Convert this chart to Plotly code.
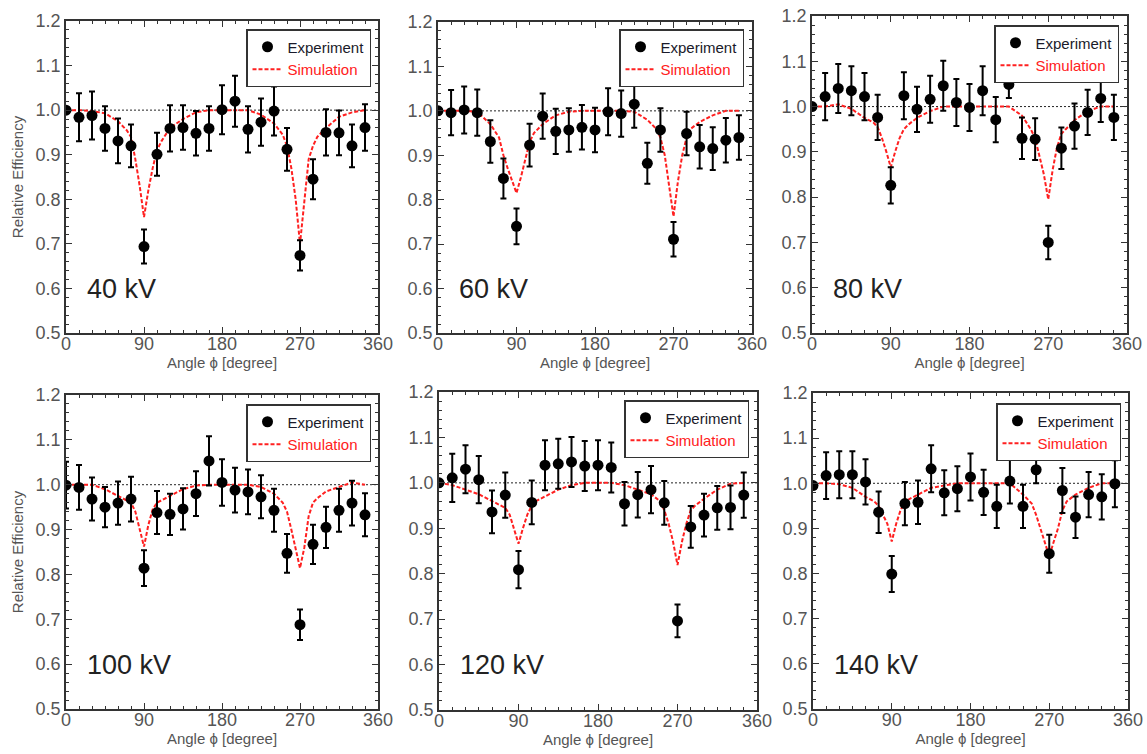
import plotly.graph_objects as go

# ---------------- data ----------------
angles_exp = [0, 15, 30, 45, 60, 75, 90, 105, 120, 135, 150, 165, 180, 195, 210, 225, 240, 255, 270, 285, 300, 315, 330, 345]
angles_sim = [0, 15, 30, 45, 60, 70, 75, 80, 85, 90, 95, 100, 105, 110, 120, 135, 150, 165, 180, 195, 210, 225, 240,
              250, 255, 260, 265, 270, 275, 280, 285, 290, 300, 315, 330, 345]
reference_level = 1.0
panel_labels = ["40 kV", "60 kV", "80 kV", "100 kV", "120 kV", "140 kV"]

exp_40 = [1.000, 0.984, 0.988, 0.959, 0.931, 0.920, 0.694, 0.901, 0.959, 0.961, 0.948, 0.959,
          1.001, 1.020, 0.957, 0.973, 0.998, 0.912, 0.674, 0.845, 0.950, 0.949, 0.920, 0.961]
err_40 = [0.0, 0.054, 0.054, 0.050, 0.050, 0.048, 0.038, 0.048, 0.052, 0.050, 0.050, 0.050,
          0.055, 0.057, 0.052, 0.053, 0.055, 0.048, 0.034, 0.045, 0.052, 0.050, 0.048, 0.052]
sim_40 = [1.000, 1.000, 0.998, 0.993, 0.975, 0.955, 0.940, 0.890, 0.830, 0.760, 0.820, 0.870, 0.910, 0.930,
          0.960, 0.980, 0.995, 1.000, 1.000, 1.000, 1.000, 0.990, 0.970, 0.945, 0.920, 0.870, 0.800, 0.700,
          0.800, 0.890, 0.920, 0.940, 0.960, 0.985, 0.995, 1.000]

exp_60 = [1.000, 0.996, 1.002, 0.996, 0.931, 0.848, 0.740, 0.923, 0.988, 0.954, 0.957, 0.963,
          0.957, 0.998, 0.994, 1.015, 0.882, 0.957, 0.711, 0.949, 0.919, 0.915, 0.934, 0.940]
err_60 = [0.0, 0.051, 0.053, 0.052, 0.048, 0.045, 0.040, 0.048, 0.051, 0.051, 0.049, 0.050,
          0.050, 0.053, 0.052, 0.053, 0.046, 0.049, 0.039, 0.049, 0.049, 0.048, 0.050, 0.050]
sim_60 = [1.000, 1.000, 1.000, 0.998, 0.970, 0.940, 0.900, 0.870, 0.840, 0.815, 0.850, 0.890, 0.930, 0.950,
          0.970, 0.990, 0.998, 1.000, 1.000, 1.000, 1.000, 0.998, 0.980, 0.960, 0.940, 0.900, 0.830, 0.762,
          0.840, 0.900, 0.940, 0.960, 0.975, 0.990, 1.000, 1.000]

exp_80 = [1.000, 1.022, 1.040, 1.035, 1.022, 0.976, 0.826, 1.024, 0.994, 1.016, 1.046, 1.009,
          0.998, 1.035, 0.971, 1.049, 0.930, 0.928, 0.700, 0.908, 0.957, 0.987, 1.018, 0.976]
err_80 = [0.0, 0.052, 0.054, 0.054, 0.052, 0.050, 0.040, 0.052, 0.050, 0.052, 0.055, 0.052,
          0.052, 0.054, 0.050, 0.030, 0.046, 0.046, 0.037, 0.046, 0.050, 0.050, 0.052, 0.050]
sim_80 = [1.000, 1.000, 1.005, 0.995, 0.975, 0.965, 0.955, 0.930, 0.900, 0.866, 0.900, 0.930, 0.950, 0.960,
          0.975, 0.990, 1.000, 1.000, 1.000, 1.000, 1.000, 1.000, 0.980, 0.950, 0.930, 0.890, 0.850, 0.795,
          0.860, 0.910, 0.940, 0.950, 0.970, 0.990, 1.000, 1.000]

exp_100 = [0.999, 0.994, 0.968, 0.950, 0.959, 0.968, 0.814, 0.938, 0.934, 0.946, 0.980, 1.053,
           1.005, 0.988, 0.984, 0.973, 0.943, 0.847, 0.688, 0.867, 0.905, 0.943, 0.959, 0.933]
err_100 = [0.052, 0.050, 0.048, 0.045, 0.048, 0.050, 0.040, 0.048, 0.046, 0.046, 0.050, 0.055,
           0.052, 0.050, 0.050, 0.048, 0.048, 0.043, 0.034, 0.044, 0.046, 0.048, 0.050, 0.048]
sim_100 = [1.000, 1.000, 1.000, 0.990, 0.975, 0.965, 0.960, 0.940, 0.900, 0.862, 0.910, 0.945, 0.960, 0.965,
           0.975, 0.990, 0.998, 1.000, 1.000, 1.000, 1.000, 0.995, 0.980, 0.960, 0.940, 0.900, 0.860, 0.814,
           0.860, 0.930, 0.960, 0.970, 0.985, 0.995, 1.005, 1.000]

exp_120 = [1.000, 1.011, 1.030, 1.007, 0.936, 0.973, 0.809, 0.957, 1.039, 1.042, 1.046, 1.037,
           1.039, 1.034, 0.954, 0.974, 0.985, 0.956, 0.696, 0.903, 0.929, 0.945, 0.946, 0.973]
err_120 = [0.0, 0.053, 0.053, 0.052, 0.047, 0.050, 0.041, 0.048, 0.055, 0.055, 0.055, 0.055,
           0.055, 0.055, 0.048, 0.050, 0.052, 0.048, 0.036, 0.046, 0.047, 0.048, 0.048, 0.050]
sim_120 = [1.000, 0.995, 0.985, 0.975, 0.960, 0.950, 0.945, 0.930, 0.900, 0.866, 0.900, 0.930, 0.950, 0.960,
           0.970, 0.985, 0.995, 1.000, 1.000, 1.000, 0.995, 0.985, 0.975, 0.960, 0.940, 0.910, 0.870, 0.819,
           0.870, 0.910, 0.940, 0.950, 0.965, 0.985, 0.998, 1.000]

exp_140 = [0.995, 1.017, 1.019, 1.019, 1.003, 0.936, 0.799, 0.955, 0.958, 1.032, 0.979, 0.988,
           1.014, 0.980, 0.949, 1.005, 0.949, 1.030, 0.844, 0.984, 0.925, 0.975, 0.970, 0.999]
err_140 = [0.0, 0.052, 0.052, 0.052, 0.050, 0.046, 0.040, 0.048, 0.048, 0.052, 0.050, 0.050,
           0.052, 0.050, 0.048, 0.050, 0.048, 0.030, 0.042, 0.050, 0.046, 0.050, 0.050, 0.052]
sim_140 = [1.000, 1.000, 0.998, 0.990, 0.970, 0.960, 0.950, 0.930, 0.910, 0.871, 0.910, 0.940, 0.960, 0.965,
           0.975, 0.990, 0.995, 1.000, 1.000, 1.000, 1.000, 1.000, 0.975, 0.955, 0.930, 0.900, 0.870, 0.838,
           0.870, 0.900, 0.940, 0.960, 0.975, 0.990, 1.000, 1.000]

exp_sets = [exp_40, exp_60, exp_80, exp_100, exp_120, exp_140]
err_sets = [err_40, err_60, err_80, err_100, err_120, err_140]
sim_sets = [sim_40, sim_60, sim_80, sim_100, sim_120, sim_140]

x_ticks = [0, 90, 180, 270, 360]
y_ticks = [0.5, 0.6, 0.7, 0.8, 0.9, 1.0, 1.1, 1.2]

# ---------------- layout geometry (pixels) ----------------
W, H = 1147, 754
# (left, right, top, bottom) of each plot area
boxes = [(66, 378, 21, 333), (438, 752, 22, 333), (812, 1127, 16, 333),
         (66, 378, 395, 709), (439, 757, 392, 710), (813, 1128, 393, 709)]
# legend right/top corners
legend_pos = [(371, 29), (744, 29), (1119, 25), (371, 404), (749, 400), (1121, 403)]

FONT = "Liberation Sans, Arial, sans-serif"
RED = "#ff2020"
AX = "#333333"
TICKC = "#555555"

fig = go.Figure()
layout = dict(width=W, height=H, margin=dict(l=0, r=0, t=0, b=0, autoexpand=False), autosize=False,
              paper_bgcolor="white", plot_bgcolor="white", font=dict(family=FONT, color=TICKC),
              annotations=[])

for i in range(6):
    n = "" if i == 0 else str(i + 1)
    xa, ya = "x" + n, "y" + n
    legend_name = "legend" if i == 0 else "legend" + str(i + 1)
    # reference line
    fig.add_trace(go.Scatter(x=[x_ticks[0], x_ticks[-1]], y=[reference_level, reference_level], mode="lines",
                             line=dict(color="#222222", width=1, dash="2px,2px"), showlegend=False,
                             hoverinfo="skip", xaxis=xa, yaxis=ya))
    # simulation
    fig.add_trace(go.Scatter(x=angles_sim, y=sim_sets[i], mode="lines",
                             line=dict(color=RED, width=2, dash="4px,2px"),
                             name="<span style='color:#ff2020'>Simulation</span>",
                             legend=legend_name, legendrank=2, xaxis=xa, yaxis=ya))
    # experiment
    fig.add_trace(go.Scatter(x=angles_exp, y=exp_sets[i], mode="markers",
                             marker=dict(color="black", size=11),
                             error_y=dict(type="data", array=err_sets[i], color="black", thickness=2, width=3),
                             name="<span style='color:#1a1a2a'>Experiment</span>",
                             legend=legend_name, legendrank=1, xaxis=xa, yaxis=ya))

    l, r, t, b = boxes[i]
    xkey = "xaxis" + n
    ykey = "yaxis" + n
    layout[xkey] = dict(domain=[l / W, r / W], anchor=ya, range=[x_ticks[0], x_ticks[-1]], automargin=False,
                        tickvals=x_ticks, ticks="inside", ticklen=6, tickwidth=1.3, tickcolor=AX,
                        showline=True, linecolor=AX, linewidth=1.5, mirror="ticks", showgrid=False,
                        zeroline=False, tickfont=dict(size=18, color=TICKC, family=FONT), ticklabelstandoff=-6,
                        minor=dict(dtick=15, ticks="inside", ticklen=3, tickcolor=AX, tickwidth=1.2),
                        title=dict(text="Angle ϕ [degree]", font=dict(size=15, color=TICKC, family=FONT),
                                   standoff=0))
    ytitle = "Relative Efficiency" if i in (0, 3) else ""
    layout[ykey] = dict(domain=[1 - b / H, 1 - t / H], anchor=xa, range=[y_ticks[0], y_ticks[-1]], automargin=False,
                        tickvals=y_ticks, tickformat=".1f", ticks="inside", ticklen=6, tickwidth=1.3,
                        tickcolor=AX, showline=True, linecolor=AX, linewidth=1.5, mirror="ticks",
                        showgrid=False, zeroline=False, tickfont=dict(size=18, color=TICKC, family=FONT),
                        minor=dict(dtick=0.02, ticks="inside", ticklen=3, tickcolor=AX, tickwidth=1.2),
                        title=dict(text=ytitle, font=dict(size=15, color=TICKC, family=FONT), standoff=8))
    lx, ly = legend_pos[i]
    layout[legend_name] = dict(x=lx / W, y=1 - ly / H, xanchor="right", yanchor="top", xref="paper", yref="paper",
                               bgcolor="white", bordercolor=AX, borderwidth=1.5,
                               font=dict(size=15, family=FONT, color="#1a1a2a"),
                               tracegroupgap=0, itemwidth=30)
    layout["annotations"].append(dict(text=panel_labels[i], xref=xa + " domain", yref=ya + " domain",
                                      x=0.06, y=0.14, xanchor="left", yanchor="middle", showarrow=False,
                                      font=dict(size=27, color="#222222", family=FONT)))

fig.update_layout(**layout)
fig.write_html("out.html", config={"displayModeBar": False},
               post_script="document.body.style.margin='0px';document.body.style.overflow='hidden';")
